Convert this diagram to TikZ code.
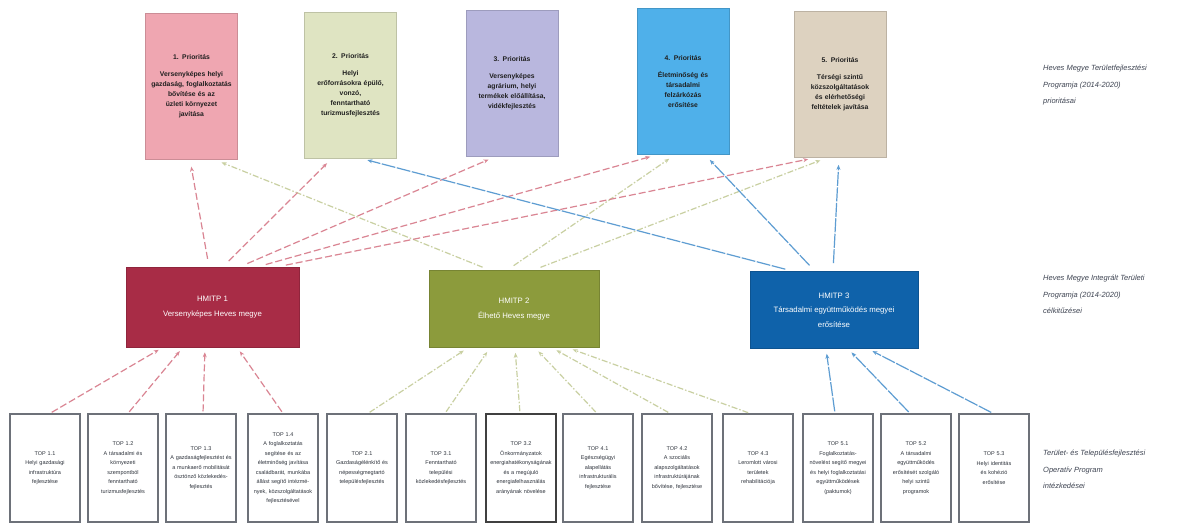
\documentclass[tikz,border=0pt]{standalone}
\usepackage{fontspec}
\setmainfont{Liberation Sans}
\usetikzlibrary{arrows.meta}
\definecolor{pA}{HTML}{EFA6B1}
\definecolor{pB}{HTML}{DFE4C2}
\definecolor{pC}{HTML}{B9B7DE}
\definecolor{pD}{HTML}{4FB0EA}
\definecolor{pE}{HTML}{DDD2C0}
\definecolor{mA}{HTML}{A82C46}
\definecolor{mB}{HTML}{8C9B3C}
\definecolor{mC}{HTML}{0F62AA}
\definecolor{lnA}{HTML}{DA8593}
\definecolor{lnB}{HTML}{C9D0A2}
\definecolor{lnC}{HTML}{5E9DD2}
\definecolor{boxgray}{HTML}{6D7179}
\definecolor{txtgray}{HTML}{2E333C}
\definecolor{lblgray}{HTML}{3F4553}
\begin{document}
\begin{tikzpicture}[x=1pt,y=-1pt,
  prio/.style={fill=#1, draw=#1!85!black, line width=0.6pt, minimum width=92pt, minimum height=146pt,
    inner sep=0pt, text width=88pt, align=center, text=black!88,
    font=\bfseries\fontsize{6.8}{10}\selectfont},
  goal/.style={fill=#1, draw=#1!85!black, line width=0.6pt, minimum height=77pt,
    inner sep=0pt, align=center, text=white, font=\fontsize{7.8}{14.5}\selectfont},
  topbox/.style={draw=boxgray, line width=1.3pt, fill=white, minimum width=70pt, minimum height=108pt,
    inner sep=0pt, text width=68pt, align=center, text=txtgray,
    font=\fontsize{5.5}{9.5}\selectfont},
  lbl/.style={anchor=north west, align=left, text=lblgray, inner sep=0pt,
    font=\itshape\fontsize{7.5}{16.5}\selectfont},
  conA/.style={draw=lnA, line width=1.2pt, dash pattern=on 7pt off 3pt, -{Stealth[length=5pt,width=4pt]}},
  conB/.style={draw=lnB, line width=1.2pt, dash pattern=on 6pt off 2pt on 1.5pt off 2pt, -{Stealth[length=5pt,width=4pt]}},
  conC/.style={draw=lnC, line width=1.2pt, dash pattern=on 14pt off 1.5pt, -{Stealth[length=5pt,width=4pt]}},
]
\useasboundingbox[fill=white] (0,0) rectangle (1185,525);

% priorities
\node[prio=pA] (P1) at (191.5,86.5) {1. Prioritás\\[7pt]Versenyképes helyi\\gazdaság, foglalkoztatás\\bővítése és az\\üzleti környezet\\javítása};
\node[prio=pB] (P2) at (350.5,85) {2. Prioritás\\[7pt]Helyi\\erőforrásokra épülő,\\vonzó,\\fenntartható\\turizmusfejlesztés};
\node[prio=pC] (P3) at (512,83.5) {3. Prioritás\\[7pt]Versenyképes\\agrárium, helyi\\termékek előállítása,\\vidékfejlesztés};
\node[prio=pD] (P4) at (683,81.5) {4. Prioritás\\[7pt]Életminőség és\\társadalmi\\felzárkózás\\erősítése};
\node[prio=pE] (P5) at (840,84.5) {5. Prioritás\\[7pt]Térségi szintű\\közszolgáltatások\\és elérhetőségi\\feltételek javítása};

% goals
\node[goal=mA, minimum width=173pt, minimum height=80pt] (M1) at (212.5,307) {HMITP 1\\Versenyképes Heves megye};
\node[goal=mB, minimum width=170pt] (M2) at (514,309) {HMITP 2\\Élhető Heves megye};
\node[goal=mC, minimum width=168pt] (M3) at (834,310) {HMITP 3\\Társadalmi együttműködés megyei\\erősítése};

% TOP measures
\node[topbox] (B1) at (45,468) {TOP 1.1\\Helyi gazdasági\\infrastruktúra\\fejlesztése};
\node[topbox] (B2) at (123,468) {TOP 1.2\\A társadalmi és\\környezeti\\szempontból\\fenntartható\\turizmusfejlesztés};
\node[topbox] (B3) at (201,468) {TOP 1.3\\A gazdaságfejlesztést és\\a munkaerő mobilitását\\ösztönző közlekedés-\\fejlesztés};
\node[topbox] (B4) at (283,468) {TOP 1.4\\A foglalkoztatás\\segítése és az\\életminőség javítása\\családbarát, munkába\\állást segítő intézmé-\\nyek, közszolgáltatások\\fejlesztésével};
\node[topbox] (B5) at (362,468) {TOP 2.1\\Gazdaságélénkítő és\\népességmegtartó\\településfejlesztés};
\node[topbox] (B6) at (441,468) {TOP 3.1\\Fenntartható\\települési\\közlekedésfejlesztés};
\node[topbox, draw=black!75, line width=1.6pt] (B7) at (521,468) {TOP 3.2\\Önkormányzatok\\energiahatékonyságának\\és a megújuló\\energiafelhasználás\\arányának növelése};
\node[topbox] (B8) at (598,468) {TOP 4.1\\Egészségügyi\\alapellátás\\infrastrukturális\\fejlesztése};
\node[topbox] (B9) at (677,468) {TOP 4.2\\A szociális\\alapszolgáltatások\\infrastruktúrájának\\bővítése, fejlesztése};
\node[topbox] (B10) at (758,468) {TOP 4.3\\Leromlott városi\\területek\\rehabilitációja};
\node[topbox] (B11) at (838,468) {TOP 5.1\\Foglalkoztatás-\\növelést segítő megyei\\és helyi foglalkoztatási\\együttműködések\\(paktumok)};
\node[topbox] (B12) at (916,468) {TOP 5.2\\A társadalmi\\együttműködés\\erősítését szolgáló\\helyi szintű\\programok};
\node[topbox] (B13) at (994,468) {TOP 5.3\\Helyi identitás\\és kohézió\\erősítése};

% level labels
\node[lbl] (L1) at (1043,65) {Heves Megye Területfejlesztési\\Programja (2014-2020)\\prioritásai};
\node[lbl] (L2) at (1043,275) {Heves Megye Integrált Területi\\Programja (2014-2020)\\célkitűzései};
\node[lbl] (L3) at (1043,450) {Terület- és Településfejlesztési\\Operatív Program\\intézkedései};

% goals -> priorities
\begin{scope}[shorten <=8pt, shorten >=7pt]
\draw[conB] ([xshift=-24pt]M2.north) -- ([xshift=23.5pt]P1.south);
\draw[conB] ([xshift=-7pt]M2.north) -- ([xshift=-8pt]P4.south);
\draw[conB] ([xshift=19pt]M2.north) -- ([xshift=-13pt]P5.south);
\draw[conA] ([xshift=-3.5pt]M1.north) -- ([xshift=-1.5pt]P1.south);
\draw[conA] ([xshift=10.5pt]M1.north) -- ([xshift=-18.5pt]P2.south);
\draw[conA] ([xshift=27.5pt]M1.north) -- ([xshift=-17pt]P3.south);
\draw[conA] ([xshift=45.5pt]M1.north) -- ([xshift=-26pt]P4.south);
\draw[conA] ([xshift=65.5pt]M1.north) -- ([xshift=-25pt]P5.south);
\draw[conC] ([xshift=-41pt]M3.north) -- ([xshift=10pt]P2.south);
\draw[conC] ([xshift=-19pt]M3.north) -- ([xshift=22pt]P4.south);
\draw[conC] ([xshift=-1pt]M3.north) -- ([xshift=-1pt]P5.south);
\end{scope}

% measures -> goals
\begin{scope}[shorten <=2pt, shorten >=5pt]
\draw[conA] ([xshift=5pt]B1.north) -- ([xshift=-49.5pt]M1.south);
\draw[conA] ([xshift=5pt]B2.north) -- ([xshift=-29.5pt]M1.south);
\draw[conA] ([xshift=2pt]B3.north) -- ([xshift=-7.5pt]M1.south);
\draw[conA] (B4.north) -- ([xshift=24.5pt]M1.south);
\draw[conB] ([xshift=6pt]B5.north) -- ([xshift=-46pt]M2.south);
\draw[conB] ([xshift=4pt]B6.north) -- ([xshift=-24pt]M2.south);
\draw[conB] ([xshift=-1pt]B7.north) -- ([xshift=1pt]M2.south);
\draw[conB] ([xshift=-1pt]B8.north) -- ([xshift=21pt]M2.south);
\draw[conB] ([xshift=-7pt]B9.north) -- ([xshift=38pt]M2.south);
\draw[conB] ([xshift=-8pt]B10.north) -- ([xshift=54pt]M2.south);
\draw[conC] ([xshift=-3pt]B11.north) -- ([xshift=-8pt]M3.south);
\draw[conC] ([xshift=-6pt]B12.north) -- ([xshift=14pt]M3.south);
\draw[conC] ([xshift=-1pt]B13.north) -- ([xshift=34pt]M3.south);
\end{scope}
\end{tikzpicture}
\end{document}
